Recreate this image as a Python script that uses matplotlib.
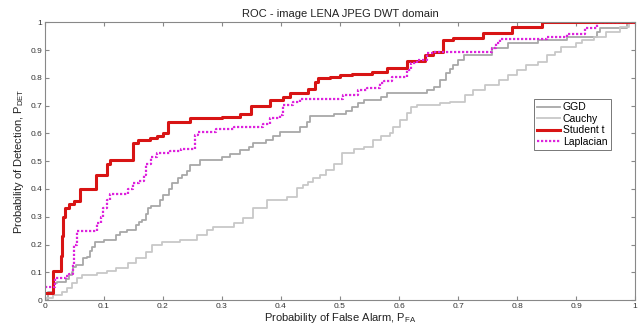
import numpy as np
import matplotlib
matplotlib.use("Agg")
import matplotlib.pyplot as plt

plt.rcParams['font.family'] = ['Liberation Sans', 'DejaVu Sans']
plt.rcParams['mathtext.fontset'] = 'custom'
plt.rcParams['mathtext.rm'] = 'Liberation Sans'
plt.rcParams['mathtext.it'] = 'Liberation Sans'

# ROC points (P_FA, P_DET)
ggd_x = [0, 0.005, 0.014, 0.02, 0.035, 0.04, 0.045, 0.048, 0.052, 0.065, 0.072, 0.076, 0.08, 0.084,
         0.1, 0.121, 0.127, 0.139, 0.155, 0.16, 0.165, 0.172, 0.175, 0.18, 0.195, 0.2, 0.21, 0.215,
         0.225, 0.232, 0.24, 0.245, 0.263, 0.3, 0.314, 0.33, 0.345, 0.353, 0.375, 0.387, 0.398,
         0.432, 0.444, 0.449, 0.49, 0.51, 0.52, 0.53, 0.54, 0.57, 0.579, 0.647, 0.66, 0.67, 0.68,
         0.686, 0.692, 0.7, 0.71, 0.757, 0.785, 0.836, 0.884, 0.935, 0.94, 0.986, 1.0]
ggd_y = [0, 0.03, 0.06, 0.065, 0.075, 0.09, 0.10, 0.12, 0.126, 0.15, 0.156, 0.175, 0.19, 0.208,
         0.215, 0.235, 0.246, 0.252, 0.27, 0.282, 0.29, 0.31, 0.33, 0.34, 0.36, 0.378, 0.40, 0.42,
         0.44, 0.45, 0.465, 0.486, 0.505, 0.516, 0.525, 0.54, 0.55, 0.565, 0.577, 0.59, 0.606,
         0.625, 0.64, 0.662, 0.67, 0.68, 0.695, 0.709, 0.72, 0.73, 0.745, 0.755, 0.769, 0.793, 0.817,
         0.832, 0.847, 0.865, 0.883, 0.907, 0.925, 0.937, 0.949, 0.967, 0.979, 1.0, 1.0]

cauchy_x = [0, 0.002, 0.014, 0.028, 0.037, 0.045, 0.054, 0.062, 0.088, 0.105, 0.12, 0.14, 0.155,
            0.172, 0.181, 0.198, 0.229, 0.257, 0.274, 0.285, 0.32, 0.335, 0.353, 0.376, 0.41, 0.427,
            0.438, 0.445, 0.455, 0.466, 0.477, 0.49, 0.503, 0.523, 0.54, 0.556, 0.57, 0.585, 0.59,
            0.602, 0.613, 0.62, 0.63, 0.669, 0.686, 0.712, 0.726, 0.745, 0.77, 0.785, 0.80, 0.815,
            0.835, 0.85, 0.865, 0.875, 0.90, 0.91, 0.93, 0.95, 0.975, 0.99, 1.0]
cauchy_y = [0, 0.006, 0.018, 0.03, 0.042, 0.06, 0.078, 0.09, 0.096, 0.105, 0.114, 0.132, 0.15,
            0.174, 0.198, 0.208, 0.216, 0.234, 0.252, 0.264, 0.276, 0.294, 0.33, 0.36, 0.372, 0.402,
            0.414, 0.426, 0.438, 0.45, 0.468, 0.49, 0.528, 0.545, 0.552, 0.577, 0.589, 0.6, 0.625,
            0.649, 0.673, 0.697, 0.703, 0.709, 0.715, 0.739, 0.757, 0.775, 0.793, 0.811, 0.829, 0.847,
            0.859, 0.883, 0.895, 0.913, 0.925, 0.937, 0.949, 0.967, 0.985, 1.0, 1.0]

student_x = [0, 0.014, 0.027, 0.029, 0.031, 0.034, 0.04, 0.05, 0.059, 0.086, 0.105, 0.11, 0.15,
             0.158, 0.178, 0.19, 0.2, 0.209, 0.245, 0.30, 0.33, 0.35, 0.381, 0.404, 0.415, 0.445,
             0.458, 0.463, 0.483, 0.5, 0.52, 0.554, 0.579, 0.613, 0.644, 0.658, 0.675, 0.692, 0.743,
             0.791, 0.842, 1.0]
student_y = [0.026, 0.106, 0.16, 0.23, 0.30, 0.33, 0.345, 0.355, 0.40, 0.45, 0.49, 0.505, 0.565,
             0.575, 0.585, 0.59, 0.60, 0.642, 0.655, 0.66, 0.67, 0.70, 0.72, 0.73, 0.745, 0.76,
             0.785, 0.80, 0.805, 0.81, 0.815, 0.82, 0.835, 0.86, 0.883, 0.895, 0.937, 0.943, 0.961,
             0.985, 1.0, 1.0]

lap_x = [0, 0.017, 0.035, 0.04, 0.048, 0.05, 0.054, 0.088, 0.095, 0.099, 0.105, 0.11, 0.141, 0.15,
         0.16, 0.167, 0.172, 0.18, 0.19, 0.212, 0.23, 0.254, 0.26, 0.29, 0.32, 0.37, 0.381, 0.398,
         0.404, 0.42, 0.432, 0.505, 0.53, 0.545, 0.568, 0.575, 0.588, 0.613, 0.62, 0.63, 0.647,
         0.66, 0.757, 0.765, 0.771, 0.85, 0.884, 0.915, 0.935, 1.0]
lap_y = [0.048, 0.078, 0.085, 0.095, 0.13, 0.2, 0.25, 0.276, 0.30, 0.33, 0.36, 0.381, 0.40, 0.42,
         0.43, 0.45, 0.49, 0.516, 0.528, 0.535, 0.545, 0.595, 0.606, 0.615, 0.625, 0.635, 0.655,
         0.665, 0.703, 0.715, 0.725, 0.739, 0.757, 0.765, 0.78, 0.79, 0.805, 0.83, 0.853, 0.865,
         0.889, 0.895, 0.907, 0.925, 0.94, 0.949, 0.957, 0.979, 1.0, 1.0]

fig = plt.figure(figsize=(6.4, 3.29), dpi=100)
ax = fig.add_axes([0.0703, 0.088, 0.9219, 0.844])

ax.plot(ggd_x, ggd_y, drawstyle='steps-post', color='#a8a8a8', lw=1.3, label='GGD')
ax.plot(cauchy_x, cauchy_y, drawstyle='steps-post', color='#c8c8c8', lw=1.3, label='Cauchy')
ax.plot(student_x, student_y, drawstyle='steps-post', color='#d81414', lw=2.2, label='Student t')
ax.plot(lap_x, lap_y, drawstyle='steps-post', color='#dd22dd', lw=1.6, ls=(0, (1, 0.8)),
        label='Laplacian')

ax.set_xlim(0, 1)
ax.set_ylim(0, 1)
ax.set_xticks(np.arange(0, 1.01, 0.1))
ax.set_yticks(np.arange(0, 1.01, 0.1))
ax.set_xticklabels(['0', '0.1', '0.2', '0.3', '0.4', '0.5', '0.6', '0.7', '0.8', '0.9', '1'])
ax.set_yticklabels(['0', '0.1', '0.2', '0.3', '0.4', '0.5', '0.6', '0.7', '0.8', '0.9', '1'])
ax.tick_params(direction='in', top=True, right=True, labelsize=6, length=3,
               color='#888888', labelcolor='#333333', pad=2)
for s in ax.spines.values():
    s.set_color('#888888')
    s.set_linewidth(0.8)

ax.set_title('ROC - image LENA JPEG DWT domain', fontsize=8, pad=4, color='#222222')
ax.set_xlabel('Probability of False Alarm, P$_{\\mathrm{FA}}$', fontsize=8, labelpad=1,
              color='#222222')
ax.set_ylabel('Probability of Detection, P$_{\\mathrm{DET}}$', fontsize=8, labelpad=3,
              color='#222222')

leg = ax.legend(loc='upper left', bbox_to_anchor=(0.834, 0.699), bbox_transform=fig.transFigure,
                fontsize=7.5, frameon=True, fancybox=False, borderpad=0.3, labelspacing=0.15,
                handlelength=2.2, handletextpad=0.3, borderaxespad=0)
leg.get_frame().set_edgecolor('#555555')
leg.get_frame().set_linewidth(0.7)

fig.savefig('out.png', dpi=100)
